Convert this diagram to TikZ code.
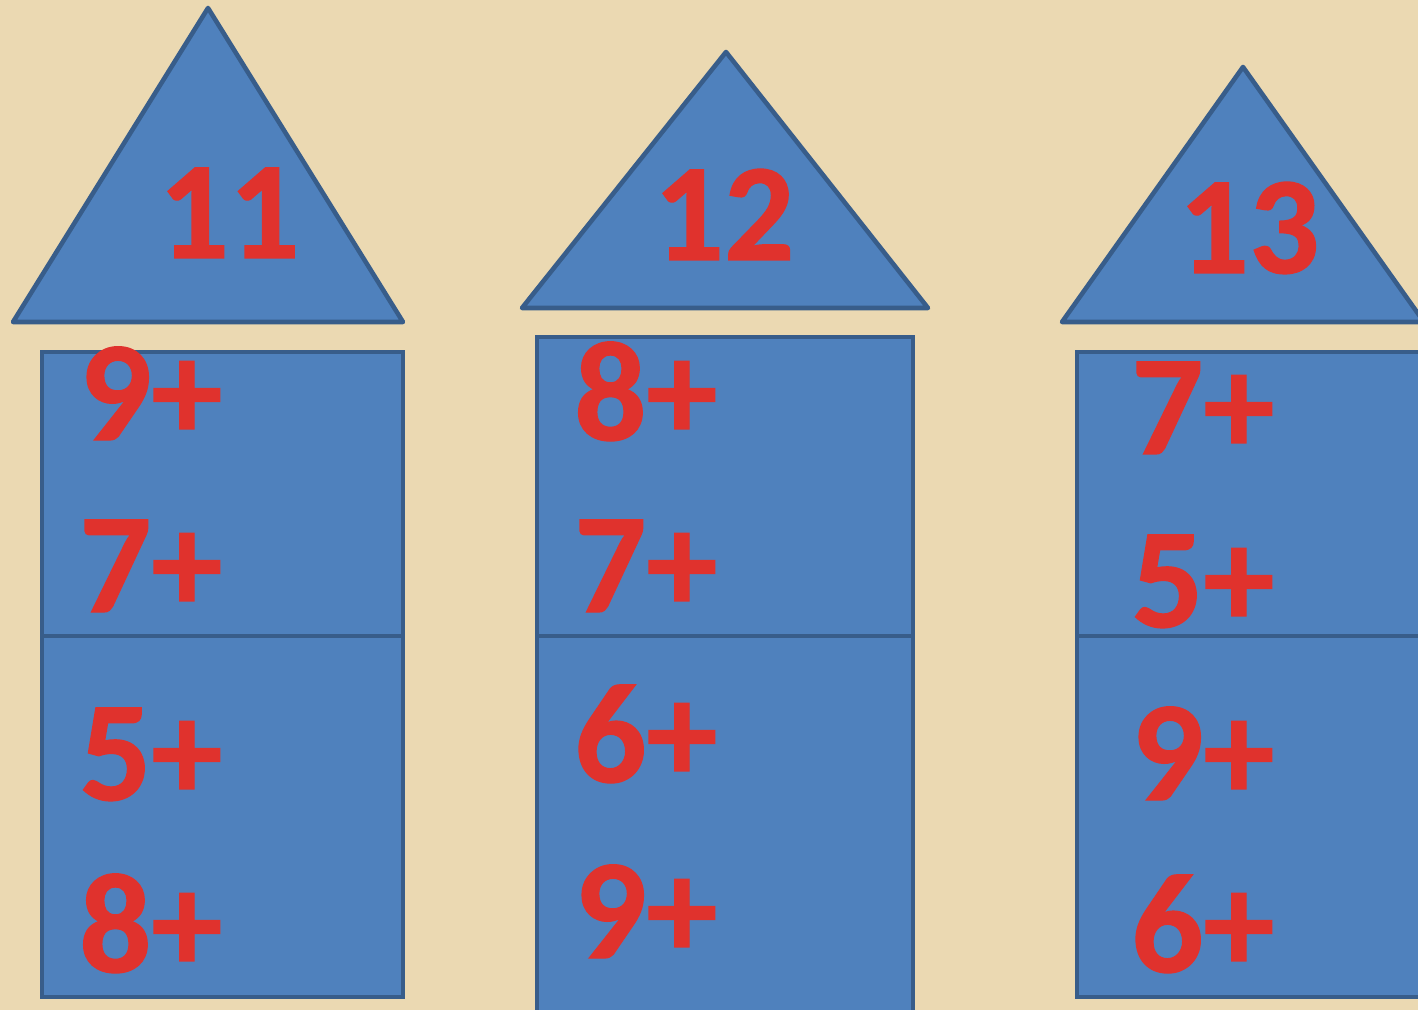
\documentclass[tikz,border=0pt]{standalone}
\usepackage{fontspec}
\setmainfont{Carlito}[BoldFeatures={FakeBold=0.9}]
\usepackage{xcolor}
\usepackage{tikz}
\usetikzlibrary{positioning}

\definecolor{parchment}{HTML}{EBD9B2}
\definecolor{wallblue}{HTML}{4F81BD}
\definecolor{edgeblue}{HTML}{385D8A}
\definecolor{digitred}{HTML}{E0322D}

\begin{document}
\begin{tikzpicture}[
    x=0.02cm, y=-0.02cm,
    roof/.style={fill=wallblue, draw=edgeblue, line width=2.6pt, line join=round},
    wall/.style={fill=wallblue, draw=edgeblue, line width=2.6pt},
    total/.style={font=\fontsize{79}{79}\selectfont\bfseries, text=digitred, inner sep=0pt, anchor=base},
    addend/.style={font=\fontsize{81}{81}\selectfont\bfseries, text=digitred, inner sep=0pt, anchor=base west}
]
    % background
    \fill[parchment] (0,0) rectangle (1418,1010);
    \useasboundingbox (0,0) rectangle (1418,1010);

    % house 11
    \draw[roof] (13,322) -- (208,8) -- (403,322) -- cycle;
    \draw[wall] (42,352) rectangle (403,636);
    \draw[wall] (42,636) rectangle (403,997);
    \node[total] (t11) at (229,258) {11};
    \node[addend] (a11) at (79,440) {9+};
    \node[addend] (b11) at (79,612) {7+};
    \node[addend] (c11) at (79,800) {5+};
    \node[addend] (d11) at (79,972) {8+};

    % house 12
    \draw[roof] (522,308) -- (726,52) -- (928,308) -- cycle;
    \draw[wall] (537,337) rectangle (913,636);
    \draw[wall] (537,636) rectangle (913,1030);
    \node[total] (t12) at (724,260) {12};
    \node[addend] (a12) at (574,440) {8+};
    \node[addend] (b12) at (574,612) {7+};
    \node[addend] (c12) at (574,782) {6+};
    \node[addend] (d12) at (574,958) {9+};

    % house 13
    \draw[roof] (1062,322) -- (1243,67) -- (1424,322) -- cycle;
    \draw[wall] (1077,352) rectangle (1440,636);
    \draw[wall] (1077,636) rectangle (1440,997);
    \node[total] (t13) at (1249,273) {13};
    \node[addend] (a13) at (1131,454) {7+};
    \node[addend] (b13) at (1131,627) {5+};
    \node[addend] (c13) at (1131,800) {9+};
    \node[addend] (d13) at (1131,972) {6+};
\end{tikzpicture}
\end{document}
